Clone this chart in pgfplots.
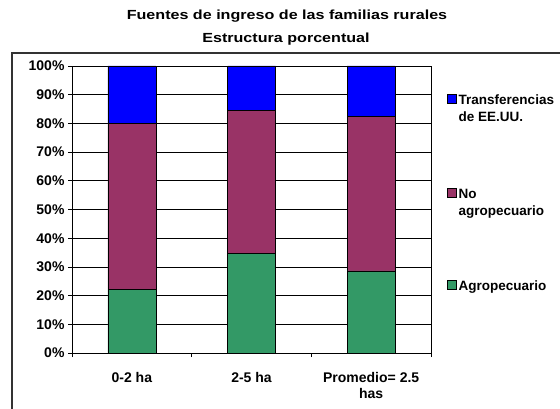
\documentclass[border=0pt]{standalone}
\usepackage{pgfplots}
\pgfplotsset{compat=1.18}
\usepackage{fontspec}
\setmainfont{Liberation Sans}
\newfontfamily\titlefont{Liberation Sans}[FakeStretch=1.22]
\definecolor{cblue}{HTML}{0000FF}
\definecolor{cpurple}{HTML}{993366}
\definecolor{cgreen}{HTML}{339966}
\newcommand{\lbl}{\fontsize{14bp}{16bp}\selectfont\bfseries}
\newcommand{\leg}{\fontsize{13.5bp}{17bp}\selectfont\bfseries}
\begin{document}
\begin{tikzpicture}[x=1bp,y=1bp]
\useasboundingbox (0,0) rectangle (560,408);
\draw[line width=1.3bp, black!80] (12,-5) -- (12,355) -- (565,355);
\node[anchor=base, font=\titlefont\fontsize{13.2bp}{15bp}\selectfont\bfseries, inner sep=0pt] at (287,388) {Fuentes de ingreso de las familias rurales};
\node[anchor=base, font=\titlefont\fontsize{13.2bp}{15bp}\selectfont\bfseries, inner sep=0pt] at (286,366) {Estructura porcentual};
\begin{axis}[
  at={(72bp,55bp)}, anchor=south west,
  width=359bp, height=287bp, scale only axis,
  ybar stacked, bar width=48bp,
  xmin=-0.5, xmax=2.5, ymin=0, ymax=100,
  xtick={-0.5,0.5,1.5,2.5}, xticklabels={},
  extra x ticks={0,1,2},
  extra x tick labels={0-2 ha, 2-5 ha, {Promedio= 2.5\\has}},
  extra x tick style={major tick length=0pt, grid=none},
  xticklabel style={align=center, font=\lbl, yshift=-16bp},
  ytick={0,10,20,30,40,50,60,70,80,90,100},
  yticklabels={0\%,10\%,20\%,30\%,40\%,50\%,60\%,70\%,80\%,90\%,100\%},
  yticklabel style={font=\lbl},
  ymajorgrids, grid style={black, line width=0.8bp},
  tick align=outside, major tick length=4bp,
  tick style={black, line width=0.8bp},
  xtick pos=bottom, ytick pos=left,
  axis line style={black, line width=0.8bp},
  legend image code/.code={\draw[#1, draw=black, line width=0.5bp] (0bp,0.5bp) rectangle (9bp,9.5bp);},
  reverse legend,
  legend style={draw=none, fill=none, inner sep=0pt, font=\leg,
    at={(axis description cs:1.0446,0.909)}, anchor=north west,
    nodes={inner sep=0pt, text depth=}, cells={anchor=base west},
    column sep=2bp, row sep=60bp},
]
\addplot[fill=cgreen, draw=black, line width=0.6bp] coordinates {(0,22.2) (1,34.7) (2,28.6)};
\addlegendentry{Agropecuario}
\addplot[fill=cpurple, draw=black, line width=0.6bp] coordinates {(0,57.8) (1,49.7) (2,53.7)};
\addlegendentry{\begin{tabular}[t]{@{}l@{}}No\\agropecuario\end{tabular}}
\addplot[fill=cblue, draw=black, line width=0.6bp] coordinates {(0,20.0) (1,15.6) (2,17.7)};
\addlegendentry{\begin{tabular}[t]{@{}l@{}}Transferencias\\de EE.UU.\end{tabular}}
\end{axis}
\end{tikzpicture}
\end{document}
